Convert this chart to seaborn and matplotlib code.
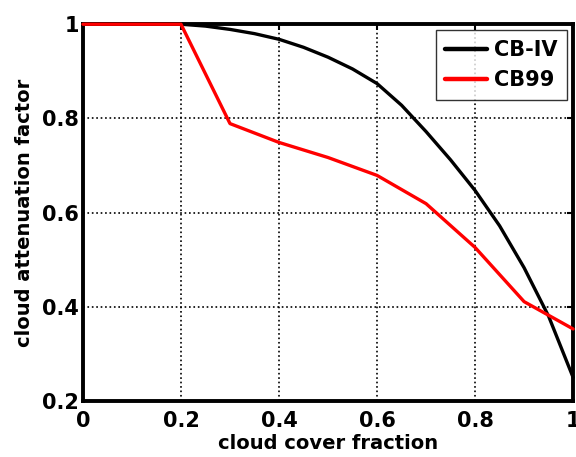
import matplotlib
matplotlib.use("Agg")
import matplotlib.pyplot as plt
import numpy as np
import pandas as pd
import seaborn as sns

# values
cbiv_x = [0.0, 0.1, 0.2, 0.25, 0.3, 0.35, 0.4, 0.45, 0.5, 0.55, 0.6, 0.65,
          0.7, 0.75, 0.8, 0.85, 0.9, 0.95, 1.0]
cbiv_y = [1.0, 1.0, 1.0, 0.996, 0.989, 0.98, 0.968, 0.951, 0.93, 0.905, 0.874,
          0.828, 0.772, 0.712, 0.647, 0.572, 0.483, 0.38, 0.25]
cb99_x = [0.0, 0.1, 0.2, 0.3, 0.4, 0.5, 0.6, 0.7, 0.8, 0.9, 1.0]
cb99_y = [1.0, 1.0, 1.0, 0.789, 0.749, 0.717, 0.679, 0.619, 0.526, 0.411, 0.353]
series_names = ["CB-IV", "CB99"]
x_ticks = [0, 0.2, 0.4, 0.6, 0.8, 1]
x_tick_labels = ["0", "0.2", "0.4", "0.6", "0.8", "1"]
y_ticks = [0.2, 0.4, 0.6, 0.8, 1]
y_tick_labels = ["0.2", "0.4", "0.6", "0.8", "1"]

df = pd.concat([
    pd.DataFrame({"x": cbiv_x, "y": cbiv_y, "model": series_names[0]}),
    pd.DataFrame({"x": cb99_x, "y": cb99_y, "model": series_names[1]}),
])

sns.set_style("white")
plt.rcParams["font.family"] = ["DejaVu Sans"]
plt.rcParams["font.weight"] = "bold"
plt.rcParams["text.color"] = "black"
plt.rcParams["axes.labelcolor"] = "black"

fig = plt.figure(figsize=(5.76, 4.57), dpi=100)
ax = fig.add_axes([0.144, 0.1225, 0.851, 0.8245])

sns.lineplot(
    data=df, x="x", y="y", hue="model", sort=False,
    palette={"CB-IV": "black", "CB99": "#ff0000"},
    linewidth=2.4, ax=ax,
)
# lines drawn over the box edge, as in the original
for ln in ax.get_lines():
    ln.set_clip_on(False)
    ln.set_zorder(5)

ax.set_xlim(0, 1)
ax.set_ylim(0.2, 1)
ax.set_xticks(x_ticks)
ax.set_xticklabels(x_tick_labels, fontsize=15, fontweight="bold")
ax.set_yticks(y_ticks)
ax.set_yticklabels(y_tick_labels, fontsize=15, fontweight="bold")
ax.tick_params(direction="in", length=4, width=1.5, top=True, right=True,
               colors="black")
ax.tick_params(axis="x", pad=7)
ax.tick_params(axis="y", pad=3)
ax.grid(True, linestyle=":", color="black", linewidth=1.2)
for s in ax.spines.values():
    s.set_linewidth(2.8)
    s.set_color("black")

ax.set_xlabel("cloud cover fraction", fontsize=14, fontweight="bold",
              color="black", labelpad=2)
ax.set_ylabel("cloud attenuation factor", fontsize=14, fontweight="bold",
              color="black", labelpad=6)

leg = ax.legend(loc="upper right", fontsize=15, frameon=True, fancybox=False,
                handlelength=2.0, borderpad=0.45, labelspacing=0.5,
                handletextpad=0.35, borderaxespad=0.3)
leg.get_frame().set_edgecolor("black")
leg.get_frame().set_linewidth(1.0)
leg.set_zorder(6)
for t in leg.get_texts():
    t.set_fontweight("bold")
    t.set_color("black")
for h in leg.get_lines():
    h.set_linewidth(3.2)

fig.savefig("out.png", dpi=100)
